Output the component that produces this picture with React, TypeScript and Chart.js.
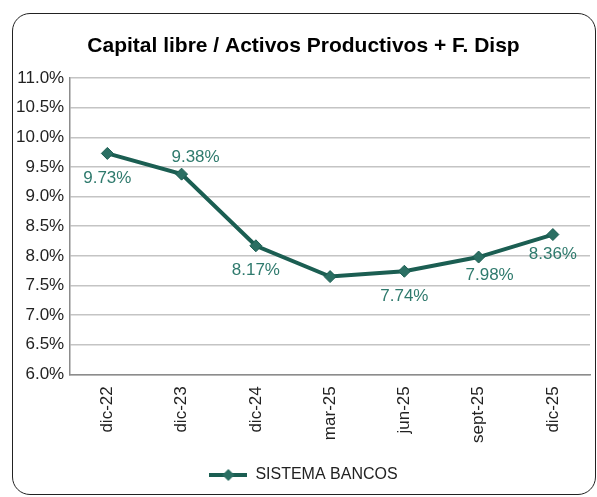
import { useEffect, useRef } from "react";
import { Chart, registerables } from "chart.js";

Chart.register(...registerables);

const chartTitle = "Capital libre / Activos Productivos + F. Disp";
const seriesName = "SISTEMA BANCOS";
const categories = ["dic-22", "dic-23", "dic-24", "mar-25", "jun-25", "sept-25", "dic-25"];
const sistemaBancos = [9.73, 9.38, 8.17, 7.65, 7.74, 7.98, 8.36];
const yMin = 6.0;
const yMax = 11.0;
const yStep = 0.5;

const LINE_COLOR = "#1b5e52";
const LABEL_COLOR = "#2f7a6d";
const FONT = "'Liberation Sans', Arial, sans-serif";

// label placement relative to each point (style only); null = no label shown
const LABEL_OFFSETS: ({ dx: number; dy: number } | null)[] = [
  { dx: 0, dy: 25 },
  { dx: 14, dy: -17 },
  { dx: 0, dy: 25 },
  null,
  { dx: 0, dy: 25 },
  { dx: 11, dy: 18 },
  { dx: 0, dy: 20 },
];

const valueLabels = {
  id: "valueLabels",
  afterDatasetsDraw(chart: any) {
    const meta = chart.getDatasetMeta(0);
    const ctx = chart.ctx;
    ctx.save();
    ctx.font = `17px ${FONT}`;
    ctx.fillStyle = LABEL_COLOR;
    ctx.textAlign = "center";
    ctx.textBaseline = "middle";
    meta.data.forEach((pt: any, i: number) => {
      const off = LABEL_OFFSETS[i];
      if (!off) return;
      ctx.fillText(sistemaBancos[i].toFixed(2) + "%", pt.x + off.dx, pt.y + off.dy);
    });
    ctx.restore();
  },
};

function makeLegendSymbol(): HTMLCanvasElement {
  const c = document.createElement("canvas");
  c.width = 38;
  c.height = 14;
  const g = c.getContext("2d")!;
  g.strokeStyle = LINE_COLOR;
  g.lineWidth = 4;
  g.beginPath();
  g.moveTo(0, 7);
  g.lineTo(38, 7);
  g.stroke();
  g.fillStyle = "#2b6f63";
  g.beginPath();
  g.moveTo(19, 1);
  g.lineTo(25, 7);
  g.lineTo(19, 13);
  g.lineTo(13, 7);
  g.closePath();
  g.fill();
  return c;
}

export default function App() {
  const ref = useRef<HTMLCanvasElement | null>(null);

  useEffect(() => {
    if (!ref.current) return;
    const legendSymbol = makeLegendSymbol();
    const chart = new Chart(ref.current, {
      type: "line",
      data: {
        labels: categories,
        datasets: [
          {
            label: seriesName,
            data: sistemaBancos,
            borderColor: LINE_COLOR,
            borderWidth: 4,
            pointStyle: "rectRot",
            pointRadius: 6,
            pointBackgroundColor: "#2b6f63",
            pointBorderColor: LINE_COLOR,
            pointBorderWidth: 1,
            tension: 0,
          },
        ],
      },
      options: {
        animation: false,
        responsive: false,
        layout: { padding: { left: 10, right: 0, top: 20, bottom: 4 } },
        scales: {
          x: {
            offset: true,
            grid: { display: false, drawTicks: false },
            border: { display: true, color: "#8c8c8c", width: 1.5 },
            ticks: {
              color: "#222",
              font: { family: FONT, size: 17 },
              maxRotation: 90,
              minRotation: 90,
              padding: 12,
            },
            afterFit: (scale: any) => {
              scale.height += 2;
            },
          },
          y: {
            min: yMin,
            max: yMax,
            grid: { color: "#c4c4c4", lineWidth: 1.5, drawTicks: false },
            border: { display: true, color: "#8c8c8c", width: 1.5 },
            ticks: {
              stepSize: yStep,
              color: "#222",
              padding: 6,
              font: { family: FONT, size: 17 },
              callback: (v: any) => Number(v).toFixed(1) + "%",
            },
          },
        },
        plugins: {
          title: {
            display: true,
            text: chartTitle,
            color: "#000",
            font: { family: FONT, size: 21, weight: "bold" },
            padding: { top: 14, bottom: 19 },
          },
          legend: {
            display: true,
            position: "bottom",
            labels: {
              usePointStyle: true,
              pointStyleWidth: 38,
              font: { family: FONT, size: 16 },
              color: "#222",
              padding: 10,
              generateLabels: () => [
                {
                  text: seriesName,
                  pointStyle: legendSymbol as any,
                  fontColor: "#222",
                  fillStyle: LINE_COLOR,
                  strokeStyle: LINE_COLOR,
                  lineWidth: 0,
                  hidden: false,
                  datasetIndex: 0,
                },
              ],
            },
          },
          tooltip: { enabled: false },
        },
      },
      plugins: [valueLabels],
    });
    return () => chart.destroy();
  }, []);

  return (
    <div style={{ position: "fixed", left: 0, top: 0, width: 597, height: 497, background: "#fff", overflow: "hidden" }}>
      <div
        style={{
          position: "absolute",
          left: 12,
          top: 13,
          width: 584,
          height: 482,
          border: "1.5px solid #222",
          borderRadius: 18,
          boxSizing: "border-box",
        }}
      />
      <canvas ref={ref} width={597} height={497} style={{ position: "absolute", left: 0, top: 0 }} />
    </div>
  );
}
